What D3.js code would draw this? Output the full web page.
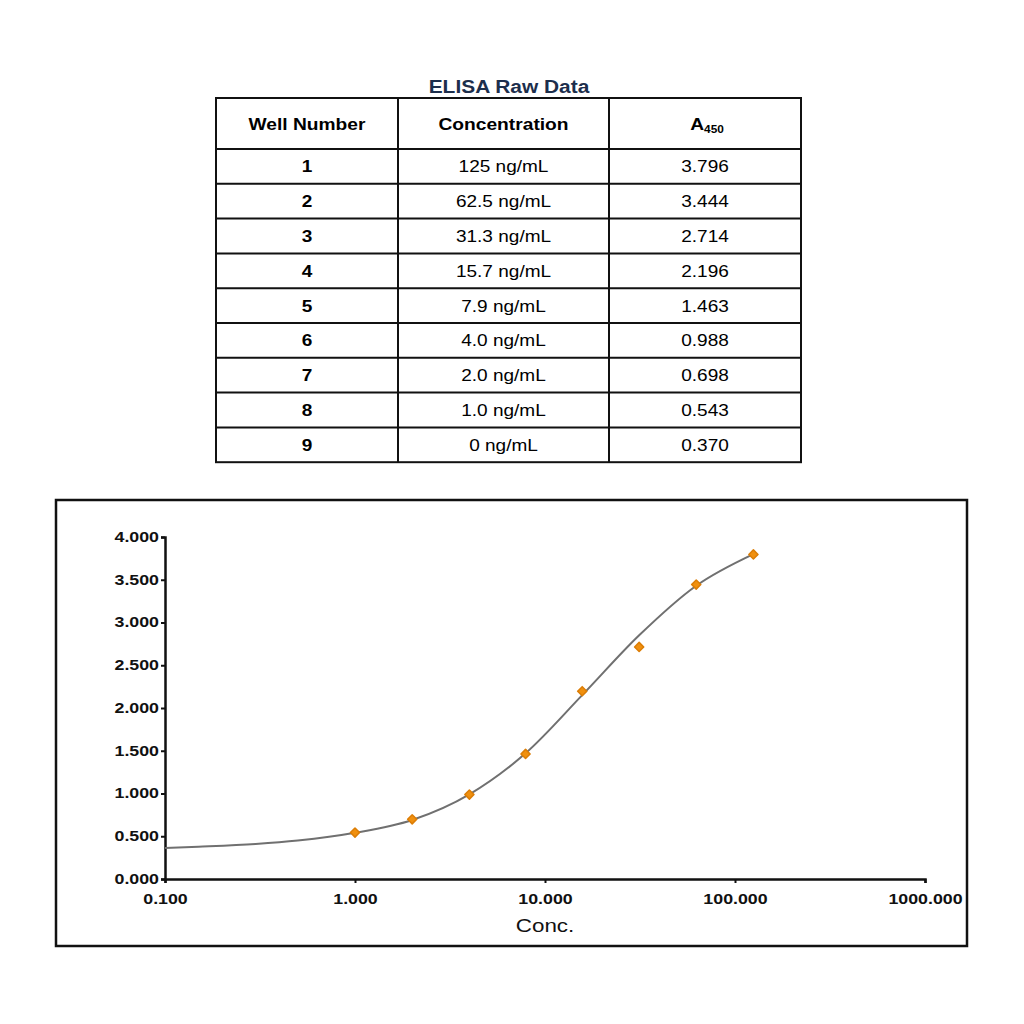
<!DOCTYPE html>
<html>
<head>
<meta charset="utf-8">
<script src="https://cdn.jsdelivr.net/npm/d3@7"></script>
<style>
  body { margin: 0; background: #fff; }
  svg { font-family: "Liberation Sans", Arial, sans-serif; }
</style>
</head>
<body>
<svg id="chart" width="1024" height="1024"></svg>
<script>
// table data
const wells = [1, 2, 3, 4, 5, 6, 7, 8, 9];
const concLabels = ["125 ng/mL", "62.5 ng/mL", "31.3 ng/mL", "15.7 ng/mL", "7.9 ng/mL",
                    "4.0 ng/mL", "2.0 ng/mL", "1.0 ng/mL", "0 ng/mL"];
const a450 = ["3.796", "3.444", "2.714", "2.196", "1.463", "0.988", "0.698", "0.543", "0.370"];

// plotted standards (the 0 ng/mL well is not on the log axis)
const conc = [125, 62.5, 31.3, 15.7, 7.9, 4.0, 2.0, 1.0];
const absorb = [3.796, 3.444, 2.714, 2.196, 1.463, 0.988, 0.698, 0.543];

// fitted curve
const fitConc = [0.1, 0.15, 0.3, 0.5, 1, 2, 4, 7.9, 15.7, 31.3, 62.5, 125];
const fitAbs = [0.363, 0.378, 0.41, 0.45, 0.54, 0.69, 0.99, 1.47, 2.15, 2.85, 3.43, 3.80];

const xTicks = [0.1, 1, 10, 100, 1000];
const yTicks = [0, 0.5, 1, 1.5, 2, 2.5, 3, 3.5, 4];

const svg = d3.select("#chart");

// the source picture is stretched sideways, so text gets a horizontal scale
function wideText(g, x, y, sx, str) {
    return g.append("text")
        .attr("transform", `translate(${x},${y}) scale(${sx},1)`)
        .attr("text-anchor", "middle")
        .text(str);
}

// ---- table ----
const tx = [216, 398, 609, 801];
const headTop = 98, headH = 51, rowH = 34.8;
const tbl = svg.append("g");

wideText(tbl, 509, 93, 1.1, "ELISA Raw Data")
    .attr("font-size", 19).attr("font-weight", "bold")
    .attr("fill", "#1c2e4c");

const tableBottom = headTop + headH + rowH * wells.length;
tbl.append("rect")
    .attr("x", tx[0]).attr("y", headTop)
    .attr("width", tx[3] - tx[0]).attr("height", tableBottom - headTop)
    .attr("fill", "none").attr("stroke", "#111").attr("stroke-width", 2);

tbl.selectAll("line.col")
    .data([tx[1], tx[2]])
    .enter().append("line")
    .attr("x1", d => d).attr("x2", d => d)
    .attr("y1", headTop).attr("y2", tableBottom)
    .attr("stroke", "#111").attr("stroke-width", 2);

tbl.selectAll("line.row")
    .data(wells)
    .enter().append("line")
    .attr("x1", tx[0]).attr("x2", tx[3])
    .attr("y1", (d, i) => headTop + headH + rowH * i)
    .attr("y2", (d, i) => headTop + headH + rowH * i)
    .attr("stroke", "#111").attr("stroke-width", 2);

const colMid = [(tx[0] + tx[1]) / 2, (tx[1] + tx[2]) / 2, (tx[2] + tx[3]) / 2];
const headY = headTop + headH / 2 + 6;
wideText(tbl, colMid[0], headY, 1.13, "Well Number").attr("font-size", 17).attr("font-weight", "bold");
wideText(tbl, colMid[1], headY, 1.13, "Concentration").attr("font-size", 17).attr("font-weight", "bold");
const aHead = wideText(tbl, colMid[2] + 2, headY, 1.13, null).attr("font-size", 17).attr("font-weight", "bold");
aHead.append("tspan").text("A");
aHead.append("tspan").attr("font-size", 10.5).attr("dy", 3).text("450");

wells.forEach((w, i) => {
    const ry = headTop + headH + rowH * i + rowH / 2 + 6;
    wideText(tbl, colMid[0], ry, 1.12, w).attr("font-size", 17).attr("font-weight", "bold");
    wideText(tbl, colMid[1], ry, 1.12, concLabels[i]).attr("font-size", 17);
    wideText(tbl, colMid[2], ry, 1.12, a450[i]).attr("font-size", 17);
});

// ---- chart ----
svg.append("rect")
    .attr("x", 56).attr("y", 500).attr("width", 911).attr("height", 446)
    .attr("fill", "none").attr("stroke", "#111").attr("stroke-width", 2.5);

const x = d3.scaleLog().domain([0.1, 1000]).range([165, 925]);
const y = d3.scaleLinear().domain([0, 4]).range([879, 537]);

const tickScale = 1.27;
const xAxis = svg.append("g")
    .attr("transform", `translate(0,${y(0)})`)
    .call(d3.axisBottom(x).tickValues(xTicks).tickFormat(d3.format(".3f")).tickSize(4).tickPadding(11));
const yAxis = svg.append("g")
    .attr("transform", `translate(${x(0.1)},0)`)
    .call(d3.axisLeft(y).tickValues(yTicks).tickFormat(d3.format(".3f")).tickSize(4).tickPadding(2));

[xAxis, yAxis].forEach(a => {
    a.select(".domain").attr("stroke", "#111").attr("stroke-width", 2.5);
    a.selectAll(".tick line").attr("stroke", "#111").attr("stroke-width", 2);
    a.selectAll(".tick text").attr("font-size", 14).attr("font-weight", "bold").attr("fill", "#111")
        .attr("font-family", "Liberation Sans, Arial, sans-serif")
        .attr("transform", `scale(${tickScale},1)`);
});
yAxis.selectAll(".tick text").attr("x", -6 / tickScale);

wideText(svg, 545, 932, 1.28, "Conc.")
    .attr("font-size", 17.5).attr("fill", "#111");

const fit = fitConc.map((c, i) => [c, fitAbs[i]]);
svg.append("path")
    .datum(fit)
    .attr("fill", "none").attr("stroke", "#707070").attr("stroke-width", 2)
    .attr("d", d3.line().x(d => x(d[0])).y(d => y(d[1])).curve(d3.curveMonotoneX));

svg.selectAll("path.pt")
    .data(conc)
    .enter().append("path")
    .attr("class", "pt")
    .attr("transform", (d, i) => `translate(${x(d)},${y(absorb[i])}) rotate(45)`)
    .attr("d", d3.symbol().type(d3.symbolSquare).size(42))
    .attr("fill", "#f0900f").attr("stroke", "#dc7d05").attr("stroke-width", 1.5)
    .attr("stroke-linejoin", "round");
</script>
</body>
</html>
